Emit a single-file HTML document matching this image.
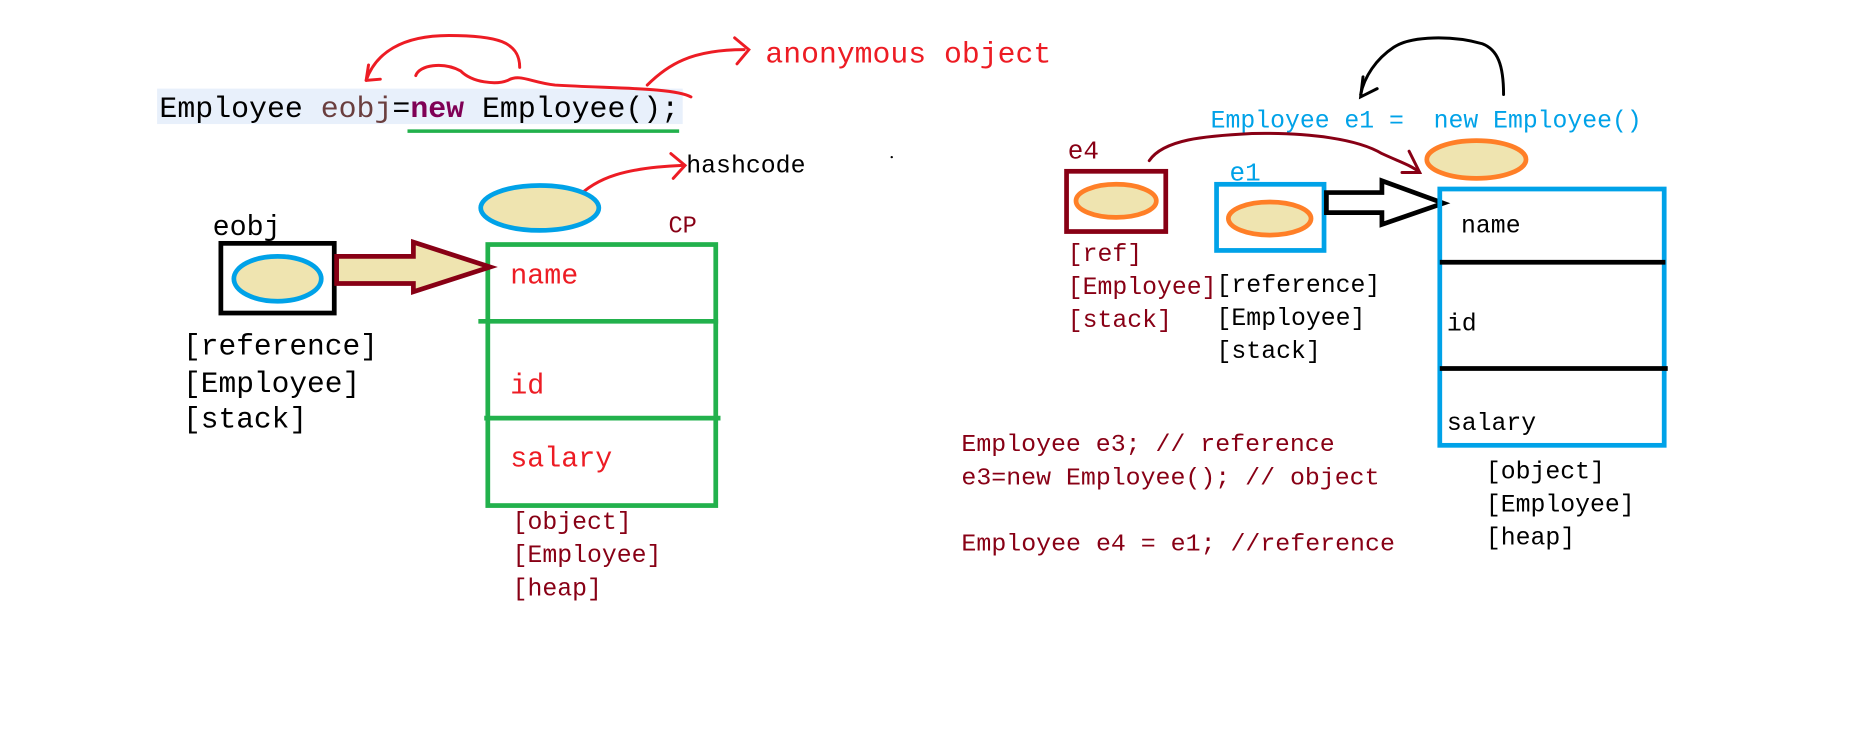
<!DOCTYPE html>
<html><head><meta charset="utf-8"><style>
html,body{margin:0;padding:0;background:#fff;}
svg{display:block;}
text{font-family:"Liberation Mono","DejaVu Sans Mono",monospace;}
</style></head><body>
<svg width="1852" height="743" viewBox="0 0 1568 629" xmlns="http://www.w3.org/2000/svg">
<rect x="0" y="0" width="1568" height="629" fill="#fff"/>
<!-- left code -->
<rect x="133" y="75" width="445" height="30" fill="#e8f0fb"/>
<text x="135" y="99" font-size="25" textLength="440" lengthAdjust="spacingAndGlyphs"><tspan fill="#000">Employee </tspan><tspan fill="#6a3e3e">eobj</tspan><tspan fill="#000">=</tspan><tspan fill="#7f0055" font-weight="bold">new</tspan><tspan fill="#000"> Employee();</tspan></text>
<line x1="345" y1="111" x2="575" y2="111" stroke="#22b14c" stroke-width="3"/>
<!-- red curves -->
<g fill="none" stroke="#ed1c24" stroke-width="2.5" stroke-linecap="round">
<path d="M440,57 C440,35 420,30 380,30 C340,30 318,45 310,68"/>
<path d="M310,68 L312,55 M310,68 L322,67"/>
<path d="M352,64 C355,55 375,52 390,60 C400,70 420,72 430,68 C440,62 450,70 470,72 C520,75 570,74 585,82"/>
<path d="M548,72 C565,55 585,42 630,42"/>
<path d="M622,32 L634,42 L624,54"/>
<path d="M488,168 C505,150 530,142 578,140"/>
<path d="M568,130 L580,140 L570,151"/>
</g>
<text x="648" y="53" font-size="25" fill="#ed1c24" textLength="242" lengthAdjust="spacingAndGlyphs">anonymous object</text>
<text x="581" y="146" font-size="21" fill="#000" textLength="101" lengthAdjust="spacingAndGlyphs">hashcode</text>
<circle cx="755" cy="133" r="1" fill="#000"/>
<ellipse cx="457" cy="176" rx="50" ry="19" fill="#efe4b0" stroke="#00a2e8" stroke-width="4"/>
<text x="566" y="197" font-size="20" fill="#880015">CP</text>
<rect x="413" y="207" width="193" height="221" fill="none" stroke="#22b14c" stroke-width="4"/>
<line x1="405" y1="272" x2="608" y2="272" stroke="#22b14c" stroke-width="4"/>
<line x1="410" y1="354" x2="610" y2="354" stroke="#22b14c" stroke-width="4"/>
<text x="432" y="240" font-size="24" fill="#ed1c24">name</text>
<text x="432" y="333" font-size="24" fill="#ed1c24">id</text>
<text x="432" y="395" font-size="24" fill="#ed1c24">salary</text>
<g font-size="21" fill="#880015">
<text x="434" y="448">[object]</text>
<text x="434" y="476">[Employee]</text>
<text x="434" y="504">[heap]</text>
</g>
<text x="180" y="199" font-size="24" fill="#000">eobj</text>
<rect x="187" y="206" width="96" height="59" fill="#fff" stroke="#000" stroke-width="4"/>
<ellipse cx="235" cy="236" rx="37" ry="19" fill="#efe4b0" stroke="#00a2e8" stroke-width="4"/>
<path d="M285,217 L350,217 L350,205 L415,226 L350,247 L350,240 L285,240 Z" fill="#efe4b0" stroke="#880015" stroke-width="4" stroke-linejoin="miter"/>
<g font-size="25" fill="#000">
<text x="155" y="300">[reference]</text>
<text x="155" y="332">[Employee]</text>
<text x="155" y="362">[stack]</text>
</g>
<!-- right -->
<text x="1025" y="108" font-size="21" fill="#00a2e8" textLength="365" lengthAdjust="spacingAndGlyphs">Employee e1 =&#160; new Employee()</text>
<g fill="none" stroke="#000" stroke-width="2.5" stroke-linecap="round">
<path d="M1273,80 C1273,55 1268,42 1255,37 C1230,30 1195,30 1180,40 C1165,50 1155,65 1152,80"/>
<path d="M1154,65 L1152,82 L1166,75"/>
</g>
<text x="904" y="134" font-size="22" fill="#880015">e4</text>
<rect x="903" y="145" width="84" height="51" fill="#fff" stroke="#880015" stroke-width="4"/>
<ellipse cx="945" cy="170" rx="34" ry="14" fill="#efe4b0" stroke="#ff7f27" stroke-width="4"/>
<g fill="none" stroke="#880015" stroke-width="2.5" stroke-linecap="round">
<path d="M973,136 C985,118 1020,115 1060,113 C1110,112 1150,118 1170,130 C1185,137 1195,140 1202,146"/>
<path d="M1193,128 L1202,146 L1187,146"/>
</g>
<text x="1041" y="153" font-size="22" fill="#00a2e8">e1</text>
<rect x="1030" y="156" width="91" height="56" fill="#fff" stroke="#00a2e8" stroke-width="4"/>
<ellipse cx="1075" cy="185" rx="35" ry="14" fill="#efe4b0" stroke="#ff7f27" stroke-width="4"/>
<path d="M1123,163 L1170,163 L1170,153 L1222,172 L1170,190 L1170,180 L1123,180 Z" fill="#fff" stroke="#000" stroke-width="4"/>
<ellipse cx="1250" cy="135" rx="42" ry="16" fill="#efe4b0" stroke="#ff7f27" stroke-width="4"/>
<rect x="1219" y="160" width="190" height="217" fill="none" stroke="#00a2e8" stroke-width="4"/>
<line x1="1219" y1="222" x2="1410" y2="222" stroke="#000" stroke-width="4"/>
<line x1="1219" y1="312" x2="1412" y2="312" stroke="#000" stroke-width="4"/>
<g font-size="21" fill="#000">
<text x="1237" y="197">name</text>
<text x="1225" y="280">id</text>
<text x="1225" y="364">salary</text>
<text x="1258" y="405">[object]</text>
<text x="1258" y="433">[Employee]</text>
<text x="1258" y="461">[heap]</text>
<text x="1030" y="247">[reference]</text>
<text x="1030" y="275">[Employee]</text>
<text x="1030" y="303">[stack]</text>
</g>
<g font-size="21" fill="#880015">
<text x="904" y="221">[ref]</text>
<text x="904" y="249">[Employee]</text>
<text x="904" y="277">[stack]</text>
</g>
<g font-size="20" fill="#880015">
<text x="814" y="382" textLength="316" lengthAdjust="spacingAndGlyphs">Employee e3; // reference</text>
<text x="814" y="410" textLength="354" lengthAdjust="spacingAndGlyphs">e3=new Employee(); // object</text>
<text x="814" y="466" textLength="367" lengthAdjust="spacingAndGlyphs">Employee e4 = e1; //reference</text>
</g>
</svg>
</body></html>
